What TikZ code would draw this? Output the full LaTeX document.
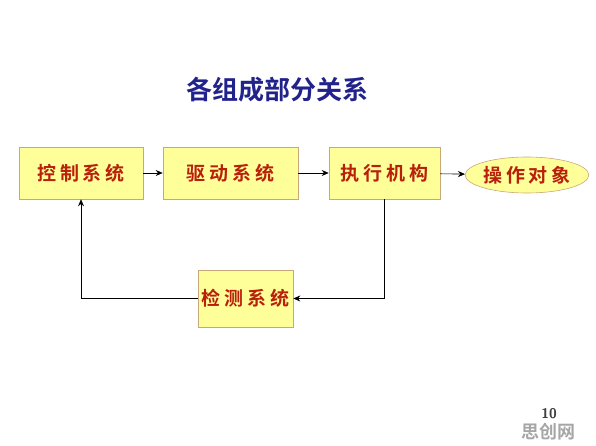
\documentclass[tikz,border=0pt]{standalone}
\usepackage{fontspec}
\usetikzlibrary{arrows.meta,shapes.geometric}
\newfontfamily\cjktitle{Noto Sans CJK SC Bold}
\newfontfamily\cjkbox[LetterSpace=20]{Noto Sans CJK SC Bold}
\definecolor{titleblue}{HTML}{22228C}
\definecolor{boxred}{HTML}{B8200C}
\definecolor{boxfill}{HTML}{FFFF99}
\definecolor{boxline}{HTML}{C8A878}

\begin{document}
\begin{tikzpicture}[x=1pt, y=-1pt, semithick,
    block/.style = {draw=boxline, fill=boxfill, minimum height=52pt, inner sep=0pt,
                    font=\cjkbox\fontsize{19}{19}\selectfont, text=boxred},
    target/.style = {block, ellipse, minimum width=110pt, minimum height=36pt},
    arr/.style = {-{Stealth[length=7pt, width=6pt]}}]
    \useasboundingbox (0,0) rectangle (596,446);
    \node[font=\cjktitle\fontsize{26}{26}\selectfont, text=titleblue] (title) at (277,90) {各组成部分关系};
    \node[block, minimum width=124pt] (ctrl) at (81,173) {控制系统};
    \node[block, minimum width=135pt] (drive) at (230.5,173) {驱动系统};
    \node[block, minimum width=111pt] (act) at (384.5,173) {执行机构};
    \node[target] (obj) at (527,175) {操作对象};
    \node[block, minimum width=95pt, minimum height=57pt] (sense) at (245.5,298.5) {检测系统};
    \draw[arr] (ctrl) -- (drive);
    \draw[arr] (drive) -- (act);
    \draw[arr] (act) -- (obj);
    \draw[arr] (act.south) |- (sense.east);
    \draw[arr] (sense.west) -| (ctrl.south);
    % page number and watermark
    \node[text=black!75, font=\sffamily\bfseries\fontsize{14}{14}\selectfont] (page) at (549,414) {10};
    \node[text=black!35, font=\cjktitle\fontsize{18}{18}\selectfont] (mark) at (548,432) {思创网};
\end{tikzpicture}
\end{document}
